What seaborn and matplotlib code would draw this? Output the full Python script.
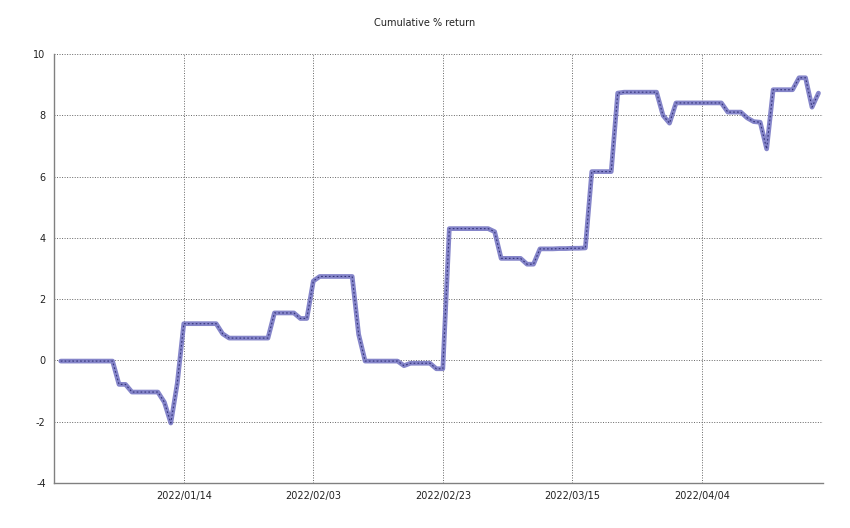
import pandas as pd
import seaborn as sns
import matplotlib
matplotlib.use('Agg')
import matplotlib.pyplot as plt
import matplotlib.dates as mdates

# дневные значения накопленной доходности, с 2021-12-26 по 2022-04-22
start_date = '2021-12-26'
cum_return = [
    -0.02, -0.02, -0.02, -0.02, -0.02, -0.02, -0.02, -0.02, -0.02,
    -0.78, -0.78, -1.03, -1.03, -1.03, -1.03, -1.03, -1.36, -2.04, -0.74,
    1.2, 1.2, 1.2, 1.2, 1.2, 1.2, 0.87,
    0.73, 0.73, 0.73, 0.73, 0.73, 0.73, 0.73,
    1.55, 1.55, 1.55, 1.55, 1.37, 1.37, 2.59,
    2.74, 2.74, 2.74, 2.74, 2.74, 2.74, 0.85,
    -0.02, -0.02, -0.02, -0.02, -0.02, -0.02, -0.17,
    -0.09, -0.09, -0.09, -0.09, -0.27, -0.27,
    4.3, 4.3, 4.3, 4.3, 4.3, 4.3, 4.3, 4.2,
    3.33, 3.33, 3.33, 3.33, 3.14, 3.14,
    3.64, 3.64, 3.64, 3.65, 3.65, 3.66, 3.66, 3.67,
    6.16, 6.16, 6.16, 6.16, 8.72,
    8.75, 8.75, 8.75, 8.75, 8.75, 8.75, 7.99, 7.74,
    8.4, 8.4, 8.4, 8.4, 8.4, 8.4, 8.4, 8.4,
    8.1, 8.1, 8.1, 7.91, 7.79, 7.77, 6.9,
    8.83, 8.83, 8.83, 8.83, 9.22, 9.22, 8.26, 8.72,
]
tick_dates = ['2022-01-14', '2022-02-03', '2022-02-23', '2022-03-15', '2022-04-04']

df = pd.DataFrame({
    'date': pd.date_range(start_date, periods=len(cum_return), freq='D'),
    'ret': cum_return,
})

sns.set_style('white')
plt.rcParams['font.family'] = ['DejaVu Sans']
plt.rcParams['axes.unicode_minus'] = False

fig = plt.figure(figsize=(8.5, 5.28), dpi=100)
ax = fig.add_axes([0.0635, 0.085, 0.9045, 0.813])

sns.lineplot(x='date', y='ret', data=df, ax=ax, color='#7878c4', linewidth=3.4, alpha=0.9)
sns.lineplot(x='date', y='ret', data=df, ax=ax, color='#34347a', linewidth=0.8,
             linestyle=(0, (1.5, 2.0)))

ax.set_xlim(df['date'].iloc[0] - pd.Timedelta(hours=25), df['date'].iloc[-1] + pd.Timedelta(hours=16))
ax.set_ylim(-4, 10)
ax.set_yticks(range(-4, 11, 2))
ax.set_xticks(pd.to_datetime(tick_dates))
ax.xaxis.set_major_formatter(mdates.DateFormatter('%Y/%m/%d'))
ax.set_xlabel('')
ax.set_ylabel('')

ax.grid(True, linestyle=(0, (1, 1.6)), color='#666666', linewidth=0.7)
ax.tick_params(length=0, labelsize=7, colors='#222222', pad=6)
for s in ['top', 'right']:
    ax.spines[s].set_visible(False)
for s in ['left', 'bottom']:
    ax.spines[s].set_color('#808080')
    ax.spines[s].set_linewidth(1.0)

fig.suptitle('Cumulative % return', y=0.965, fontsize=7, color='#222222')

plt.savefig('out.png', dpi=100)
